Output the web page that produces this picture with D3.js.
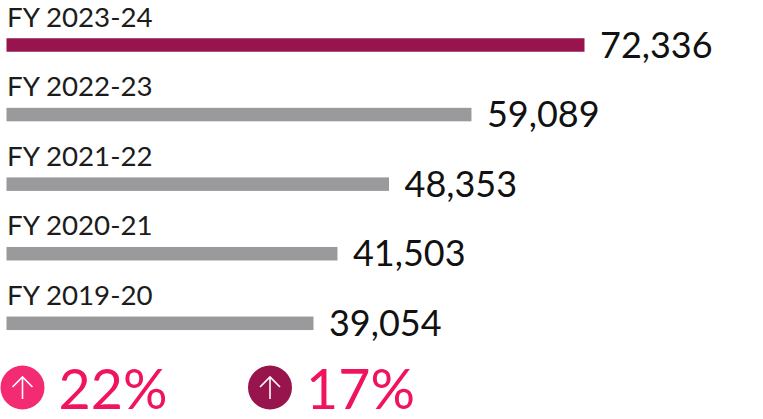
<!DOCTYPE html>
<html><head><meta charset="utf-8">
<script src="https://cdn.jsdelivr.net/npm/d3@7/dist/d3.min.js"></script>
<style>html,body{margin:0;padding:0;background:#fff}svg{display:block}text{font-family:Lato,sans-serif}</style>
</head><body><svg id="c" width="763" height="419"></svg>
<script>
const categories = ["FY 2023-24","FY 2022-23","FY 2021-22","FY 2020-21","FY 2019-20"];
const values = [72336,59089,48353,41503,39054];
// The reference's bars are not exactly proportional to their labels: these are the lengths as drawn.
const barLengths = [72336,58190,47870,41420,38420];
const barColors = ["#97144c","#9a9a9d","#9a9a9d","#9a9a9d","#9a9a9d"];
const growthLabels = ["22%","17%"];
const growthColors = ["#f22b73","#97144c"];

const svg = d3.select("#c");
const x = d3.scaleLinear().domain([0,72336]).range([6.5,584.5]);
const y = d3.scalePoint().domain(categories).range([45,323.3]);
const fmt = d3.format(",");

const rows = svg.selectAll("g.row").data(categories).join("g").attr("class","row");
rows.append("rect").attr("x",x(0)).attr("y",d=>y(d)-6.75).attr("height",13.5)
  .attr("width",(d,i)=>x(barLengths[i])-x(0)).attr("fill",(d,i)=>barColors[i]);
rows.append("text").attr("x",7).attr("y",d=>y(d)-18.5).attr("font-size",27.7).attr("fill","#1c1c1c").text(d=>d);
rows.append("text").attr("x",(d,i)=>x(barLengths[i])+15.5).attr("y",d=>y(d)+12.6).attr("font-size",36).attr("fill","#111").text((d,i)=>fmt(values[i]));

const gx = d3.scaleOrdinal().domain(growthLabels).range([22.5,270]);
const g = svg.selectAll("g.g").data(growthLabels).join("g").attr("class","g").attr("transform",d=>`translate(${gx(d)},387.5)`);
g.append("circle").attr("r",22).attr("fill",(d,i)=>growthColors[i]);
g.append("path").attr("d","M0,11.5V-10.5M-10,-0.5L0,-10.5L10,-0.5").attr("fill","none").attr("stroke","#fff").attr("stroke-width",1.6);
g.append("text").attr("x",36).attr("y",21).attr("font-size",55.5).attr("fill","#f0145f").text(d=>d);
</script></body></html>
